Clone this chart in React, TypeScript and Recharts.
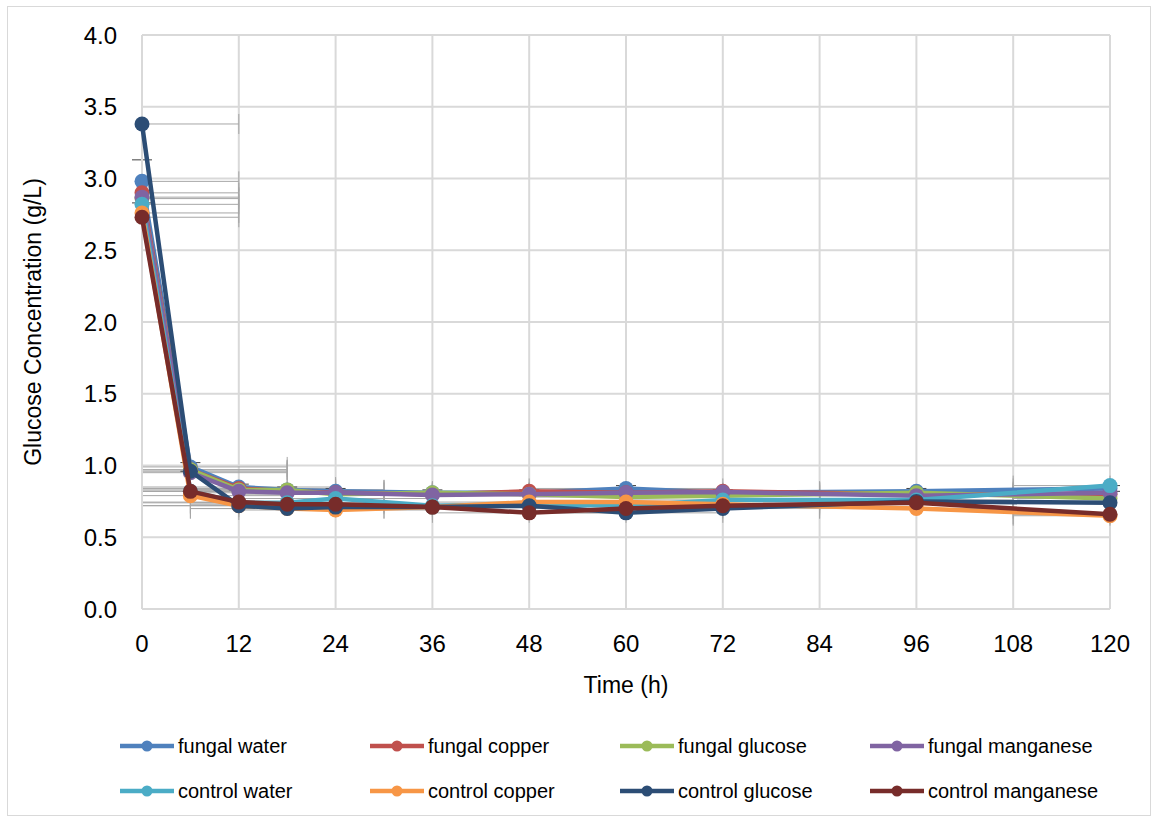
import React from 'react';
import { ScatterChart, Scatter, XAxis, YAxis, CartesianGrid, ErrorBar } from 'recharts';

const TIME = [0, 6, 12, 18, 24, 36, 48, 60, 72, 96, 120];
const X_TICKS = [0, 12, 24, 36, 48, 60, 72, 84, 96, 108, 120];
const Y_TICKS = [0, 0.5, 1, 1.5, 2, 2.5, 3, 3.5, 4];

const fungalWater = [2.98, 0.99, 0.85, 0.83, 0.82, 0.81, 0.81, 0.84, 0.81, 0.82, 0.84];
const fungalCopper = [2.9, 0.97, 0.84, 0.82, 0.81, 0.8, 0.82, 0.81, 0.82, 0.8, 0.8];
const fungalGlucose = [2.86, 0.97, 0.83, 0.83, 0.8, 0.81, 0.8, 0.78, 0.79, 0.81, 0.77];
const fungalManganese = [2.87, 0.95, 0.82, 0.81, 0.81, 0.795, 0.8, 0.81, 0.815, 0.79, 0.81];
const controlWater = [2.82, 0.82, 0.74, 0.74, 0.77, 0.72, 0.73, 0.72, 0.76, 0.76, 0.86];
const controlCopper = [2.76, 0.79, 0.72, 0.7, 0.69, 0.71, 0.745, 0.745, 0.73, 0.7, 0.65];
const controlGlucose = [3.38, 0.96, 0.72, 0.7, 0.71, 0.71, 0.72, 0.67, 0.7, 0.75, 0.74];
const controlManganese = [2.73, 0.82, 0.745, 0.73, 0.73, 0.71, 0.67, 0.7, 0.72, 0.74, 0.66];

// error bars: time +-12 h on every point, SD only visible on fungal water
const TIME_ERR = 12;
const T_MIN = 0;
const T_MAX = 120;
const fungalWaterSd = [0.15, 0.03, 0.02, 0.02, 0.02, 0.02, 0.02, 0.02, 0.02, 0.02, 0.02];

const SERIES = [
  { name: 'fungal water', color: '#4F81BD', values: fungalWater, sd: fungalWaterSd },
  { name: 'fungal copper', color: '#C0504D', values: fungalCopper },
  { name: 'fungal glucose', color: '#9BBB59', values: fungalGlucose },
  { name: 'fungal manganese', color: '#8064A2', values: fungalManganese },
  { name: 'control water', color: '#4BACC6', values: controlWater },
  { name: 'control copper', color: '#F79646', values: controlCopper },
  { name: 'control glucose', color: '#2C4D75', values: controlGlucose },
  { name: 'control manganese', color: '#772C2A', values: controlManganese },
] as { name: string; color: string; values: number[]; sd?: number[] }[];

const FONT = '"Liberation Sans", Arial, sans-serif';
const GRID = '#d9d9d9';

// Excel clips error bars at the plot edge, so cut the time error there
const errorPoints = SERIES.flatMap((s) =>
  s.values.map((v, i) => ({
    t: TIME[i],
    v,
    xe: [Math.min(TIME_ERR, TIME[i] - T_MIN), Math.min(TIME_ERR, T_MAX - TIME[i])],
    ye: s.sd ? s.sd[i] : 0,
  }))
);

const dot = (color: string) => (props: any) =>
  props.cx == null ? <g /> : <circle cx={props.cx} cy={props.cy} r={7.5} fill={color} />;

export default function App() {
  return (
    <div style={{ position: 'absolute', left: 0, top: 0, width: 1158, height: 822, background: '#fff', fontFamily: FONT }}>
      <div
        style={{
          position: 'absolute',
          left: 7,
          top: 6,
          width: 1144,
          height: 810,
          boxSizing: 'border-box',
          border: `1px solid ${GRID}`,
        }}
      />
      <div style={{ position: 'absolute', left: 0, top: 0 }}>
        <ScatterChart width={1158} height={720} margin={{ top: 35, right: 48, left: 0, bottom: 11 }}>
          <CartesianGrid stroke={GRID} strokeWidth={2} />
          <XAxis
            type="number"
            dataKey="t"
            domain={[T_MIN, T_MAX]}
            ticks={X_TICKS}
            interval={0}
            height={100}
            tickLine={false}
            tickSize={0}
            tickMargin={26}
            axisLine={{ stroke: GRID, strokeWidth: 2 }}
            tick={{ fill: '#000', fontSize: 24, fontFamily: FONT }}
            label={{ value: 'Time (h)', position: 'insideBottom', offset: 16, fill: '#000', fontSize: 23, fontFamily: FONT }}
          />
          <XAxis xAxisId="err" type="number" dataKey="t" domain={[T_MIN, T_MAX]} allowDataOverflow hide />
          <YAxis
            type="number"
            dataKey="v"
            domain={[0, 4]}
            ticks={Y_TICKS}
            interval={0}
            width={142}
            tickLine={false}
            tickSize={0}
            tickMargin={25}
            axisLine={{ stroke: GRID, strokeWidth: 2 }}
            tickFormatter={(v: number) => v.toFixed(1)}
            tick={{ fill: '#000', fontSize: 24, fontFamily: FONT }}
            label={{
              value: 'Glucose Concentration (g/L)',
              angle: -90,
              position: 'insideLeft',
              offset: 33,
              fill: '#000',
              fontSize: 23,
              fontFamily: FONT,
              style: { textAnchor: 'middle' },
            }}
          />
          <Scatter
            xAxisId="err"
            data={errorPoints}
            shape={() => <g />}
            fill="#a6a6a6"
            isAnimationActive={false}
          >
            <ErrorBar dataKey="xe" direction="x" width={10} stroke="#a6a6a6" strokeWidth={1} />
            <ErrorBar dataKey="ye" direction="y" width={10} stroke="#404040" strokeWidth={1} />
          </Scatter>
          {SERIES.map((s) => (
            <Scatter
              key={s.name}
              name={s.name}
              data={TIME.map((t, i) => ({ t, v: s.values[i] }))}
              fill={s.color}
              line={{ stroke: s.color, strokeWidth: 4.5, strokeLinejoin: 'round' }}
              lineType="joint"
              shape={dot(s.color)}
              isAnimationActive={false}
            />
          ))}
        </ScatterChart>
      </div>
      {SERIES.map((s, i) => {
        const col = i % 4;
        const row = Math.floor(i / 4);
        const textX = 178 + col * 250;
        const cy = 746 + row * 45;
        return (
          <div key={s.name} style={{ position: 'absolute', left: textX - 59, top: cy - 14, height: 28, display: 'flex', alignItems: 'center' }}>
            <svg width={56} height={28} style={{ display: 'block' }}>
              <line x1={1} y1={14} x2={55} y2={14} stroke={s.color} strokeWidth={4.5} />
              <circle cx={28} cy={14} r={5.5} fill={s.color} />
            </svg>
            <span style={{ marginLeft: 3, fontSize: 20, color: '#000', whiteSpace: 'nowrap' }}>{s.name}</span>
          </div>
        );
      })}
    </div>
  );
}
